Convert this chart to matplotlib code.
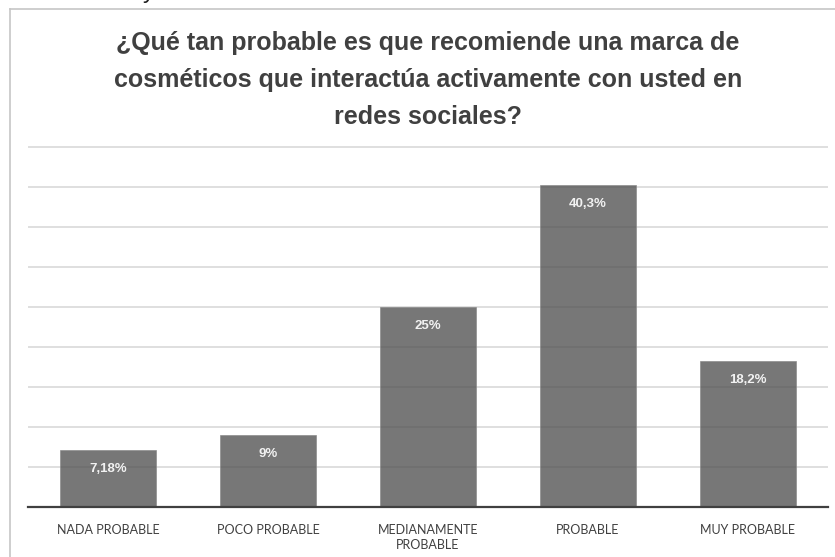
import matplotlib
matplotlib.use("Agg")
import matplotlib.pyplot as plt
from matplotlib.lines import Line2D

# survey answers and share of respondents (%)
categories = ["NADA PROBABLE", "POCO PROBABLE", "MEDIANAMENTE\nPROBABLE", "PROBABLE", "MUY PROBABLE"]
values = [7.18, 9, 25, 40.3, 18.2]
value_labels = ["7,18%", "9%", "25%", "40,3%", "18,2%"]

title = ("¿Qué tan probable es que recomiende una marca de\n"
         "cosméticos que interactúa activamente con usted en\n"
         "redes sociales?")

BAR_COLOR = "#525252"
TEXT_COLOR = "#404040"
GRID_COLOR = "#d9d9d9"

fig = plt.figure(figsize=(8.35, 5.57), dpi=100)
W, H = 835, 557

# tail of the page text sitting above the chart
fig.text(143 / W, 1 + 2 / H, "y", ha="left", va="baseline", fontsize=17, color="#202020",
         family="Liberation Sans")

# chart frame (top and left edges only)
fig.add_artist(Line2D([10 / W, 1], [1 - 9 / H, 1 - 9 / H], color="#c6c6c6", lw=1.2))
fig.add_artist(Line2D([10 / W, 10 / W], [0, 1 - 9 / H], color="#c6c6c6", lw=1.2))

ax = fig.add_axes([28 / W, (H - 507) / H, 800 / W, 362 / H])
x = range(len(categories))
ax.bar(x, values, width=0.6, color=BAR_COLOR, alpha=0.79, edgecolor="#8a8a8a", lw=0.6, zorder=2)
ax.set_xlim(-0.5, len(categories) - 0.5)
ax.set_ylim(0, 45.25)
ax.set_yticks(range(5, 46, 5))
ax.yaxis.grid(True, color=GRID_COLOR, lw=1.2, zorder=0)
ax.set_axisbelow(True)
ax.tick_params(axis="y", left=False, labelleft=False)
ax.tick_params(axis="x", bottom=False, pad=9)
ax.set_xticks(list(x))
ax.set_xticklabels(categories, fontsize=9, color=TEXT_COLOR, family="Lato", linespacing=1.25)
for side in ["top", "right", "left"]:
    ax.spines[side].set_visible(False)
ax.spines["bottom"].set_color("#404040")
ax.spines["bottom"].set_linewidth(1.6)
ax.spines["bottom"].set_zorder(3)

for xi, v, lab in zip(x, values, value_labels):
    ax.annotate(lab, (xi, v), xytext=(0, -19), textcoords="offset pixels",
                ha="center", va="center", fontsize=9.5, fontweight="bold",
                family="Liberation Sans", color="#f2f2f2", zorder=4)

fig.text(428 / W, 1 - 80 / H, title, ha="center", va="center", fontsize=18,
         fontweight="bold", color=TEXT_COLOR, family="Liberation Sans", linespacing=1.7)

fig.savefig("out.png", dpi=100)
